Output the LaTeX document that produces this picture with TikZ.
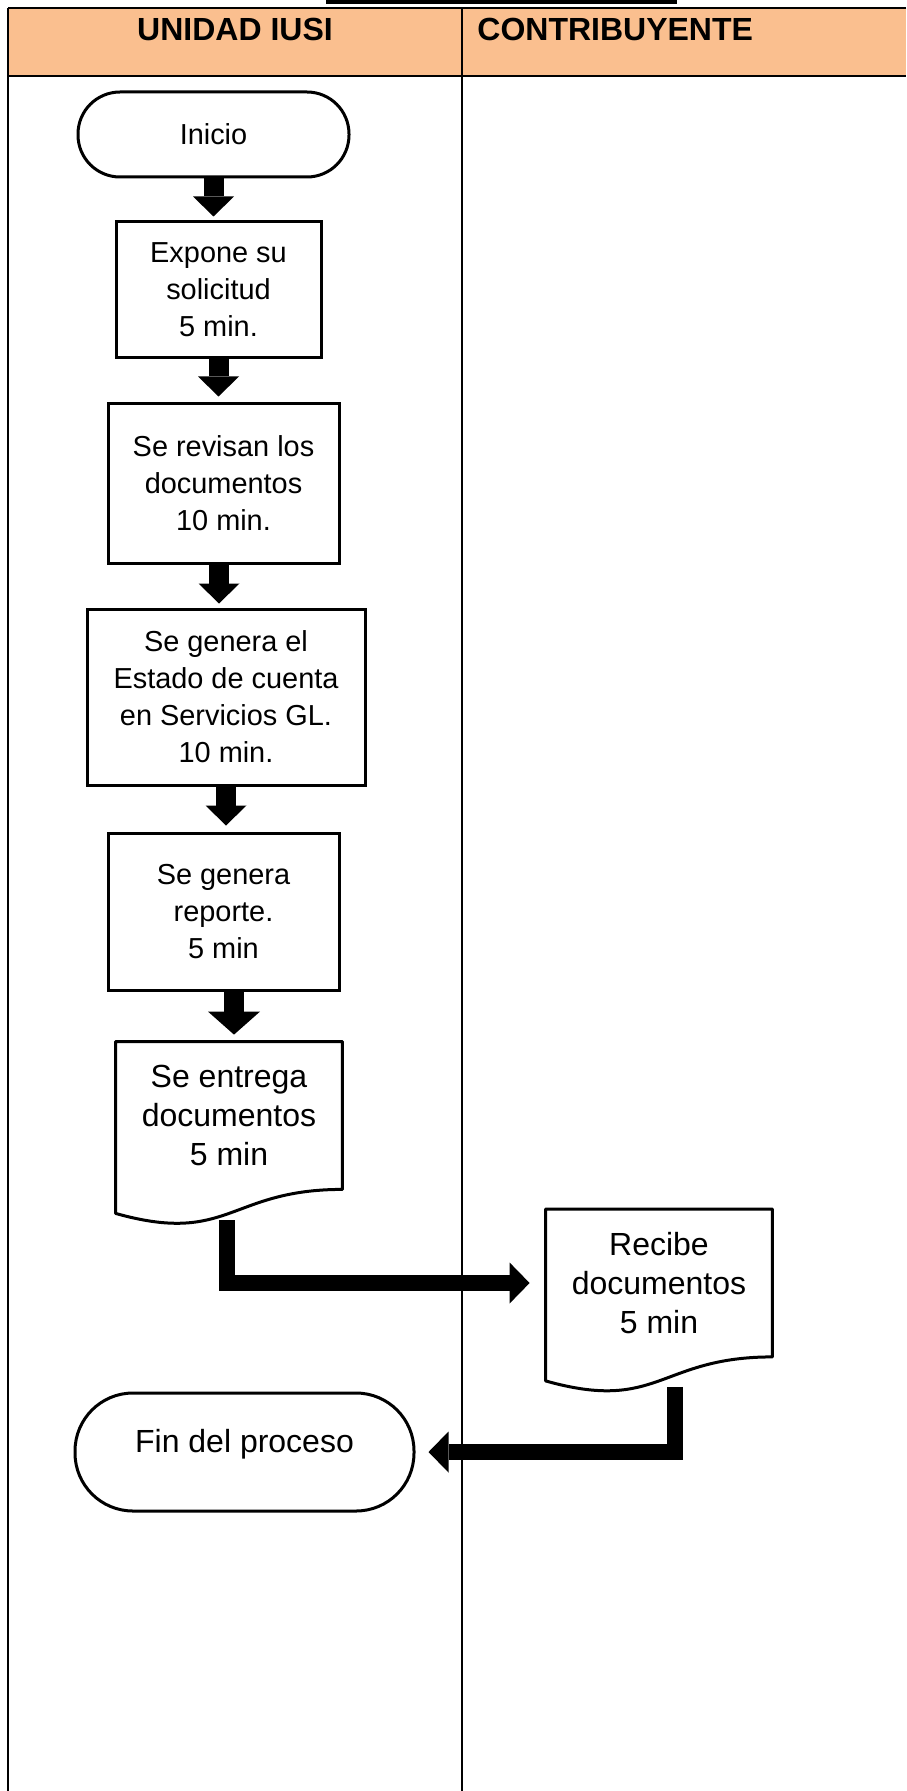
\documentclass[tikz,border=0pt]{standalone}
\usepackage{fontspec}
\setmainfont{Liberation Sans}
\usetikzlibrary{arrows.meta, calc}

\newdimen\px \px=0.5pt
\definecolor{lanehead}{HTML}{FABF8F}

% outline of a document symbol below a text node
\newcommand\docoutline[1]{%
  \draw[docline] (#1.north west) -- (#1.north east) -- (#1.south east)
    .. controls (#1.south) and ($(#1.south)+(0,56)$) .. ($(#1.south west)+(0,24)$) -- cycle;}

\begin{document}
\begin{tikzpicture}[x=0.5pt, y=-0.5pt,
  bodytext/.style={font=\fontsize{14.45pt}{18.5pt}\selectfont, align=center},
  bigtext/.style={font=\fontsize{16pt}{19.5pt}\selectfont, align=center},
  procbox/.style={bodytext, draw, line width=3\px, inner sep=0pt},
  termbox/.style={bodytext, draw, line width=3\px, inner sep=0pt, rounded corners=#1},
  docbox/.style={bigtext, inner sep=0pt, minimum width=226\px, minimum height=147\px},
  docline/.style={line width=3\px, line join=round},
  headtext/.style={font=\fontsize{16pt}{18pt}\selectfont\bfseries, inner sep=0pt, anchor=base},
  flowarrow/.style={line width=20\px, -{Triangle[length=10pt, width=20.5pt, line width=0pt]}},
  bigarrow/.style={line width=16\px, -{Triangle[length=10pt, width=20.5pt, line width=0pt]}}]
  \useasboundingbox (0,0) rectangle (906,1791);

  % Lanes
  \fill (326,0) rectangle (677,4);
  \fill[lanehead] (8,8) rectangle (906,76);
  \draw[line width=2.5\px] (906,8) -- (8,8);
  \draw[line width=2.5\px] (8,76) -- (906,76);
  \draw[line width=2\px] (8,8) -- (8,1791);
  \draw[line width=2\px] (462,8) -- (462,1791);
  \node[headtext] (lane1) at (235,41) {UNIDAD IUSI};
  \node[headtext, anchor=base west] (lane2) at (477,41) {CONTRIBUYENTE};

  % Steps
  \node[termbox=21pt, minimum width=271\px, minimum height=85\px] (inicio) at (213.5,134.5) {Inicio};
  \node[procbox, minimum width=205\px, minimum height=136\px] (expone) at (218.5,290)
    {Expone su\\solicitud\\5 min.};
  \node[procbox, minimum width=231\px, minimum height=159\px] (revisan) at (223.5,483.5)
    {Se revisan los\\documentos\\10 min.};
  \node[procbox, minimum width=278\px, minimum height=176\px] (estado) at (226,697)
    {Se genera el\\Estado de cuenta\\en Servicios GL.\\10 min.};
  \node[procbox, minimum width=231\px, minimum height=157\px] (reporte) at (223.5,911.5)
    {Se genera\\reporte.\\5 min};
  \node[docbox] (entrega) at (229,1115.5) {Se entrega\\documentos\\5 min};
  \docoutline{entrega}
  \node[docbox] (recibe) at (659,1283) {Recibe\\documentos\\5 min};
  \docoutline{recibe}
  \node[termbox=29pt, bigtext, minimum width=339\px, minimum height=118\px,
        text height=11.5pt, text depth=11.5pt] (fin) at (244.5,1452) {Fin del proceso};

  % Flow
  \draw[flowarrow, shorten >=2pt] (inicio.south) -- (inicio.south |- expone.north);
  \draw[flowarrow, shorten >=3pt] (expone.south) -- (expone.south |- revisan.north);
  \draw[flowarrow, shorten >=2pt] ([xshift=-2.25pt]revisan.south) -- ([xshift=-2.25pt]revisan.south |- estado.north);
  \draw[flowarrow, shorten >=3pt] (estado.south) -- (estado.south |- reporte.north);
  \draw[line width=20\px, -{Triangle[length=11.5pt, width=26pt, line width=0pt]}, shorten >=3.5pt]
    ([xshift=5.25pt]reporte.south) -- ([xshift=5.25pt]reporte.south |- entrega.north);

  \coordinate (entrega-out) at ($(entrega.south)+(-2.5,31)$);
  \coordinate (recibe-out) at ($(recibe.south)+(16,30)$);
  \draw[bigarrow, shorten >=8pt] (entrega-out) |- (recibe.west);
  \draw[bigarrow, shorten >=6.5pt] (recibe-out) |- (fin.east);
\end{tikzpicture}
\end{document}
